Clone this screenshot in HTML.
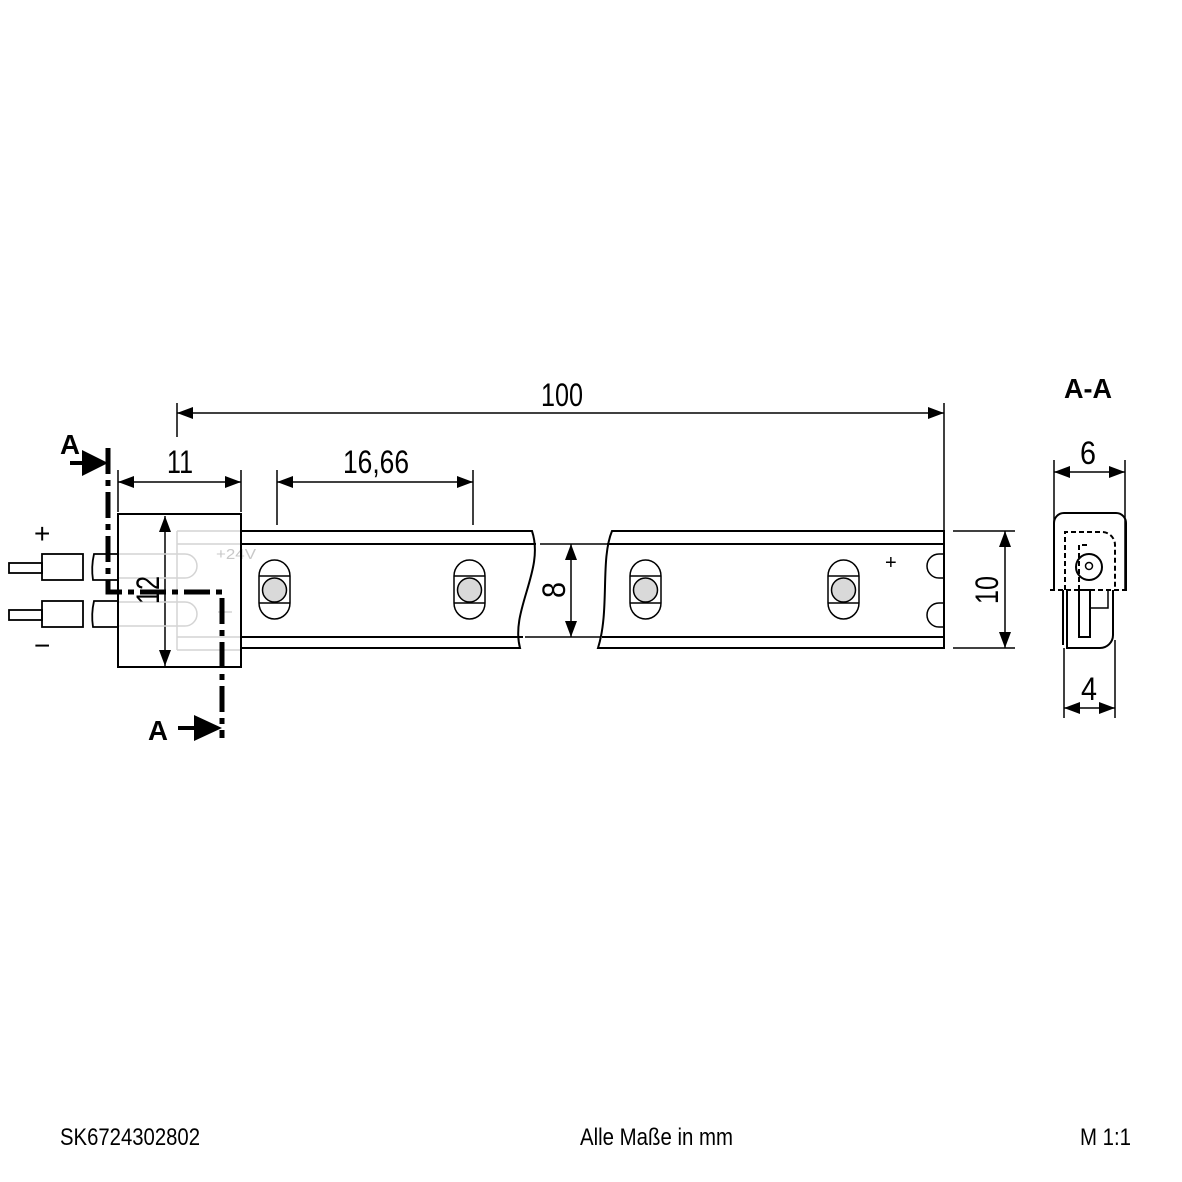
<!DOCTYPE html>
<html><head><style>html,body{margin:0;padding:0;background:#fff}svg{display:block}</style></head>
<body>
<svg width="1182" height="1182" viewBox="0 0 1182 1182" xmlns="http://www.w3.org/2000/svg" font-family="Liberation Sans, sans-serif">
<defs>
<marker id="a" viewBox="0 0 16 12" refX="16" refY="6" markerWidth="16" markerHeight="12" markerUnits="userSpaceOnUse" orient="auto-start-reverse"><path d="M0,0L16,6L0,12z" fill="#000"/></marker>
</defs>
<rect width="1182" height="1182" fill="#fff"/>
<g stroke="#000" stroke-width="1.5" fill="none">
<line x1="177" y1="403" x2="177" y2="437"/>
<line x1="944" y1="403" x2="944" y2="530"/>
<line x1="177" y1="413" x2="944" y2="413" marker-start="url(#a)" marker-end="url(#a)"/>
<line x1="118" y1="470" x2="118" y2="512"/>
<line x1="241" y1="470" x2="241" y2="512"/>
<line x1="118" y1="482" x2="241" y2="482" marker-start="url(#a)" marker-end="url(#a)"/>
<line x1="277" y1="470" x2="277" y2="525"/>
<line x1="473" y1="470" x2="473" y2="525"/>
<line x1="277" y1="482" x2="473" y2="482" marker-start="url(#a)" marker-end="url(#a)"/>
<line x1="165" y1="516" x2="165" y2="666" marker-start="url(#a)" marker-end="url(#a)"/>
<line x1="540" y1="544" x2="608" y2="544"/>
<line x1="525" y1="637" x2="600" y2="637"/>
<line x1="571" y1="544" x2="571" y2="637" marker-start="url(#a)" marker-end="url(#a)"/>
<line x1="953" y1="531" x2="1015" y2="531"/>
<line x1="953" y1="648" x2="1015" y2="648"/>
<line x1="1005" y1="531" x2="1005" y2="648" marker-start="url(#a)" marker-end="url(#a)"/>
</g>
<g stroke="#d4d4d4" stroke-width="1.5" fill="none">
<line x1="177" y1="531" x2="177" y2="650"/>
<line x1="177" y1="531" x2="241" y2="531"/><line x1="177" y1="544" x2="241" y2="544"/>
<line x1="177" y1="637" x2="241" y2="637"/><line x1="177" y1="650" x2="241" y2="650"/>
<line x1="118" y1="554" x2="177" y2="554"/><line x1="118" y1="578" x2="177" y2="578"/>
<line x1="118" y1="602" x2="177" y2="602"/><line x1="118" y1="626" x2="177" y2="626"/>
<path d="M177,554 H185 A12,12 0 0 1 185,578 H177"/>
<path d="M177,602 H185 A12,12 0 0 1 185,626 H177"/>
<line x1="218" y1="612" x2="232" y2="612"/>
</g>
<text x="216" y="559" font-size="15" fill="#c8c8c8" textLength="40" lengthAdjust="spacingAndGlyphs">+24V</text>
<g stroke="#000" stroke-width="2" fill="none">
<rect x="118" y="514" width="123" height="153"/>
<path d="M241,531 H532 C545,570 510,610 520,648 H241"/>
<line x1="241" y1="544" x2="536" y2="544"/>
<line x1="241" y1="637" x2="523" y2="637"/>
<path d="M944,531 H612 C600,560 610,610 598,648 H944 Z"/>
<line x1="607" y1="544" x2="944" y2="544"/>
<line x1="602" y1="637" x2="944" y2="637"/>
<path d="M944,554 H939 A12,12 0 0 0 939,578 H944" stroke-width="1.5"/>
<path d="M944,603 H939 A12,12 0 0 0 939,627 H944" stroke-width="1.5"/>
<g stroke-width="1.8">
<rect x="9" y="563" width="33" height="10"/><rect x="42" y="554" width="41" height="26"/>
<path d="M118,554 H94 Q91,567 93,580 H118"/>
<rect x="9" y="610" width="33" height="10"/><rect x="42" y="601" width="41" height="26"/>
<path d="M118,601 H94 Q91,614 93,627 H118"/>
</g>
</g>
<g stroke="#000" stroke-width="1.5">
<g id="led">
<path d="M259,576 A15.5,16 0 0 1 290,576 V603 A15.5,16 0 0 1 259,603 Z" fill="#fff"/>
<line x1="259" y1="576" x2="290" y2="576"/><line x1="259" y1="603" x2="290" y2="603"/>
<circle cx="274.5" cy="590" r="12" fill="#d9d9d9"/>
</g>
<use href="#led" x="195"/><use href="#led" x="371"/><use href="#led" x="569"/>
</g>
<text x="885" y="569" font-size="20">+</text>
<text x="34" y="543" font-size="28">+</text>
<text x="34" y="655" font-size="28">−</text>
<g stroke="#000" stroke-width="5" fill="none" stroke-dasharray="26,6,6,6">
<path d="M108,448 V592 H222 V738"/>
</g>
<line x1="70" y1="463" x2="92" y2="463" stroke="#000" stroke-width="4"/>
<path d="M82,450 L108,463 L82,476 Z"/>
<line x1="178" y1="728" x2="200" y2="728" stroke="#000" stroke-width="4"/>
<path d="M194,715 L222,728 L194,741 Z"/>
<text x="60" y="454" font-size="28" font-weight="bold" textLength="20" lengthAdjust="spacingAndGlyphs">A</text>
<text x="148" y="740" font-size="28" font-weight="bold" textLength="20" lengthAdjust="spacingAndGlyphs">A</text>
<text x="1088" y="398" font-size="28" font-weight="bold" text-anchor="middle" textLength="48" lengthAdjust="spacingAndGlyphs">A-A</text>
<g stroke="#000" stroke-width="1.5" fill="none">
<line x1="1054" y1="460" x2="1054" y2="590"/><line x1="1125" y1="460" x2="1125" y2="590"/>
<line x1="1054" y1="472" x2="1125" y2="472" marker-start="url(#a)" marker-end="url(#a)"/>
<line x1="1064" y1="648" x2="1064" y2="718"/><line x1="1115" y1="640" x2="1115" y2="718"/>
<line x1="1064" y1="708" x2="1115" y2="708" marker-start="url(#a)" marker-end="url(#a)"/>
<path d="M1054,590 V523 A10,10 0 0 1 1064,513 H1116 A10,10 0 0 1 1126,523 V590" stroke-width="2"/>
<path d="M1067,590 V648 H1100 A13,13 0 0 0 1113,635 V590" stroke-width="2"/>
<line x1="1063" y1="590" x2="1063" y2="645" stroke-width="2"/>
<line x1="1050" y1="590" x2="1130" y2="590" stroke-dasharray="5,3" stroke-width="2"/>
<path d="M1065,590 V532 H1102 A13,13 0 0 1 1115,545 V590" stroke-dasharray="5,3" stroke-width="2"/>
<path d="M1079,590 V545 H1090" stroke-dasharray="5,3" stroke-width="2"/>
<circle cx="1089" cy="567" r="13" stroke-width="2"/>
<circle cx="1089" cy="566" r="3.5"/>
<rect x="1079" y="590" width="11" height="47" stroke-width="2"/>
<path d="M1108,590 V608 H1090"/>
</g>
<g font-size="32">
<text x="562" y="406" text-anchor="middle" textLength="42" lengthAdjust="spacingAndGlyphs">100</text>
<text x="180" y="473" text-anchor="middle" textLength="26" lengthAdjust="spacingAndGlyphs">11</text>
<text x="376" y="473" text-anchor="middle" textLength="66" lengthAdjust="spacingAndGlyphs">16,66</text>
<text x="1088" y="464" text-anchor="middle" textLength="16" lengthAdjust="spacingAndGlyphs">6</text>
<text x="1089" y="700" text-anchor="middle" textLength="16" lengthAdjust="spacingAndGlyphs">4</text>
<text transform="translate(159,590) rotate(-90)" text-anchor="middle" textLength="28" lengthAdjust="spacingAndGlyphs">12</text>
<text transform="translate(565,590) rotate(-90)" text-anchor="middle" textLength="16" lengthAdjust="spacingAndGlyphs">8</text>
<text transform="translate(998,590) rotate(-90)" text-anchor="middle" textLength="28" lengthAdjust="spacingAndGlyphs">10</text>
</g>
<g font-size="24">
<text x="60" y="1145" textLength="140" lengthAdjust="spacingAndGlyphs">SK6724302802</text>
<text x="580" y="1145" textLength="153" lengthAdjust="spacingAndGlyphs">Alle Maße in mm</text>
<text x="1080" y="1145" textLength="51" lengthAdjust="spacingAndGlyphs">M 1:1</text>
</g>
</svg>
</body></html>
